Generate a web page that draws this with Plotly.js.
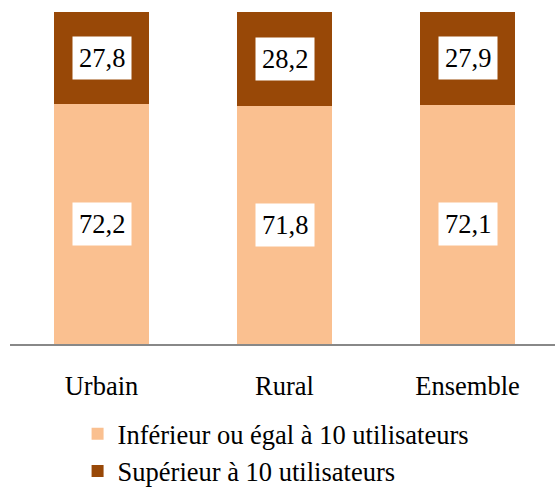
<!DOCTYPE html>
<html><head><meta charset="utf-8">
<script src="https://cdn.plot.ly/plotly-3.0.1.min.js"></script>
<style>html,body{margin:0;padding:0;background:#fff;}#chart{width:555px;height:488px;}</style>
</head><body><div id="chart"></div>
<script>
const categories = ["Urbain", "Rural", "Ensemble"];
const lowValues = [72.2, 71.8, 72.1];
const highValues = [27.8, 28.2, 27.9];
const seriesNames = ["Inférieur ou égal à 10 utilisateurs", "Supérieur à 10 utilisateurs"];
const fmt = v => v.toFixed(1).replace(".", ",");

const font = "Liberation Serif";
const fs = 26.5;
const traces = [
  {type: "bar", x: categories, y: lowValues, name: seriesNames[0], marker: {color: "#FAC090"}, width: 0.52, hoverinfo: "none"},
  {type: "bar", x: categories, y: highValues, name: seriesNames[1], marker: {color: "#984807"}, width: 0.52, hoverinfo: "none"}
];
const annotations = [];
categories.forEach((c, i) => {
  annotations.push({x: c, y: lowValues[i] / 2, text: fmt(lowValues[i]), showarrow: false, bgcolor: "#fff", borderpad: 6, font: {family: font, size: fs, color: "#000"}});
  annotations.push({x: c, y: lowValues[i] + highValues[i] / 2, text: fmt(highValues[i]), showarrow: false, bgcolor: "#fff", borderpad: 6, font: {family: font, size: fs, color: "#000"}});
});
const layout = {
  width: 555, height: 488,
  margin: {l: 10, r: 0, t: 12, b: 144},
  barmode: "stack",
  paper_bgcolor: "#fff", plot_bgcolor: "#fff",
  font: {family: font, size: fs, color: "#000"},
  xaxis: {range: [-0.5, 2.478], showline: true, linecolor: "#888", linewidth: 2, ticks: "", ticklabelstandoff: 17, tickfont: {family: font, size: fs, color: "#000"}, fixedrange: true},
  yaxis: {range: [0, 100], visible: false, showgrid: false, zeroline: false, fixedrange: true},
  showlegend: true,
  legend: {orientation: "v", x: 0.124, xanchor: "left", y: 0.16, yanchor: "top", yref: "container", traceorder: "normal", font: {family: font, size: fs, color: "#000"}, itemwidth: 30, tracegroupgap: 0, bgcolor: "rgba(0,0,0,0)"},
  annotations: annotations,
  bargap: 0.48
};
Plotly.newPlot("chart", traces, layout, {displayModeBar: false, staticPlot: true});
</script></body></html>
